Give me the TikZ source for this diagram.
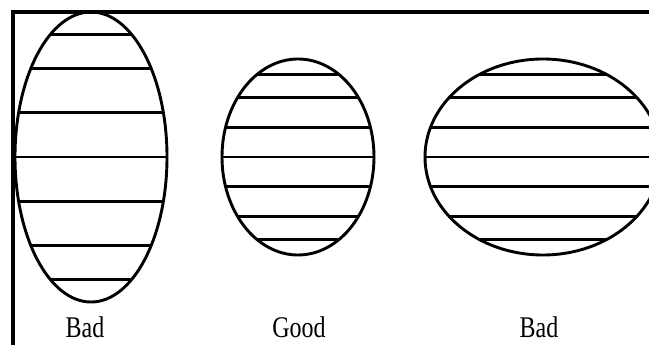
\documentclass[tikz,border=0pt]{standalone}
\usepackage{fontspec}
\setmainfont{Liberation Serif}
\usepackage{tikz}

\begin{document}
\begin{tikzpicture}[x=1pt, y=-1pt, line width=2.9pt,
    caption/.style={anchor=base, inner sep=0pt, xscale=0.8, transform shape,
      font=\fontsize{30}{34}\selectfont}]
  % y grows downwards, one unit per pixel of the reference
  \newcommand{\stripedoval}[4]{%
    \begin{scope}
      \clip (#1,#2) ellipse [x radius=#3, y radius=#4];
      \foreach \f in {-0.845,-0.61,-0.305,0,0.305,0.61,0.845}
        \draw (#1-#3,#2+\f*#4) -- (#1+#3,#2+\f*#4);
    \end{scope}
    \draw (#1,#2) ellipse [x radius=#3, y radius=#4];
  }
  \useasboundingbox (0,0) rectangle (649,345);
  \fill[white] (0,0) rectangle (649,345);
  \clip (0,0) rectangle (649,345);
  % ---------------------------------------------------------------- frame
  \draw[line width=3.8pt] (13,350) -- (13,12) -- (655,12);
  % ---------------------------------------------------------------- ovals
  \stripedoval{91}{157}{76}{145}
  \stripedoval{298}{157}{76}{98}
  \stripedoval{543}{157}{118}{98}
  % ---------------------------------------------------------------- captions
  \node[caption] (tall) at (85,337) {Bad};
  \node[caption] (round) at (299,337) {Good};
  \node[caption] (wide) at (539,337) {Bad};
\end{tikzpicture}
\end{document}
